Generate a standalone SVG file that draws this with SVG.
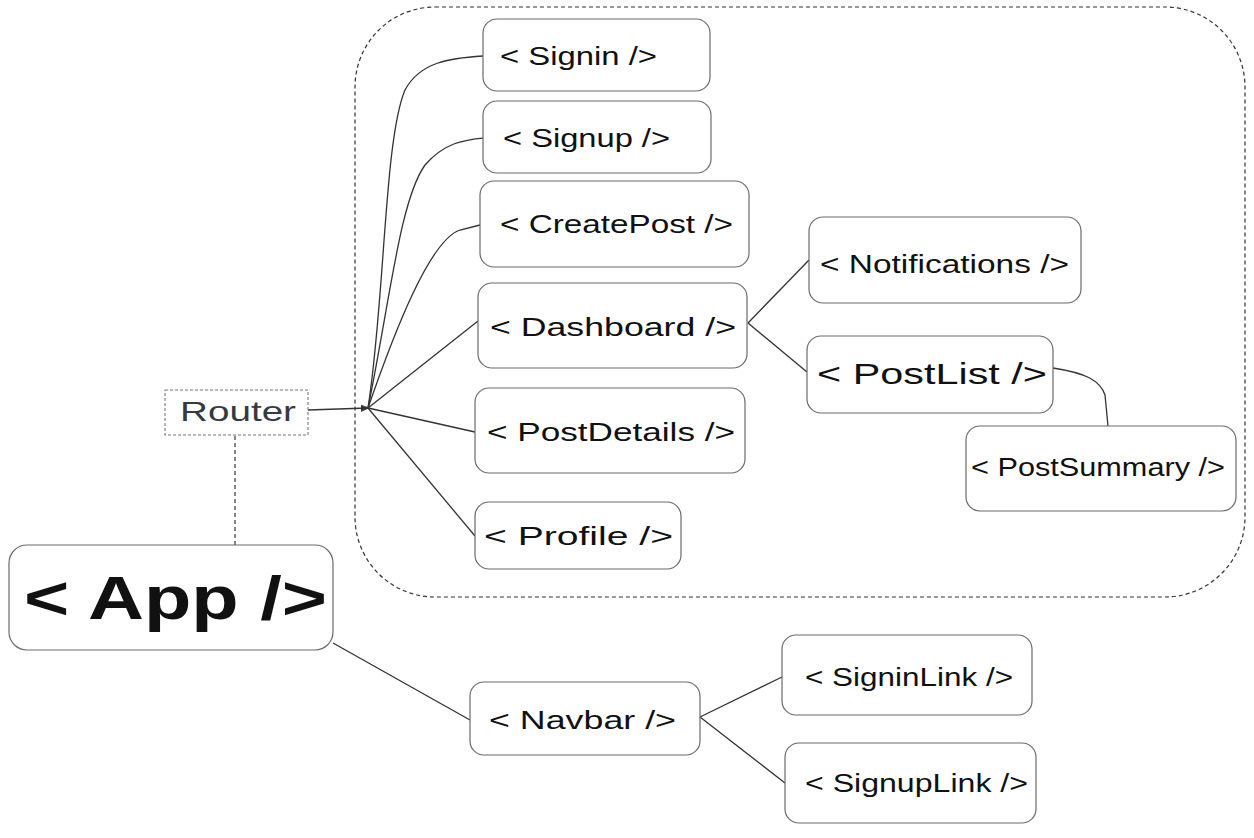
<svg xmlns="http://www.w3.org/2000/svg" width="1254" height="838" viewBox="0 0 1254 838">
  <style>
    .box { fill: #ffffff; stroke: #6b6b6b; stroke-width: 1.2; }
    .lbl { font-family: "Liberation Sans", Arial, sans-serif; font-size: 26px; fill: #111111; }
    .big { font-size: 30px; }
    .app { font-size: 62px; font-weight: bold; }
    .router { fill: #343a40; font-size: 28px; }
    .wire { fill: none; stroke: #333333; stroke-width: 1.3; }
    .dash { fill: none; stroke: #333333; stroke-width: 1.2; stroke-dasharray: 4 3; }
  </style>
  <defs>
    <marker id="arrow" viewBox="0 0 10 10" refX="9" refY="5" markerWidth="8" markerHeight="8" orient="auto" markerUnits="userSpaceOnUse">
      <path d="M0,1 L10,5 L0,9" fill="#333333" stroke="#333333" stroke-width="1"/>
    </marker>
  </defs>

  <rect width="1254" height="838" fill="#ffffff"/>

  <!-- routed pages container -->
  <rect id="routes" x="355" y="7" width="890" height="590" rx="80" ry="80" class="dash"/>

  <g id="connectors">
    <path class="wire" d="M308,410 L368,408" marker-end="url(#arrow)"/>
    <path class="dash" d="M235,436 L235,545"/>
    <path class="wire" d="M368,408 C385,300 384,140 405,90 C420,62 450,58 483,56"/>
    <path class="wire" d="M368,408 C390,300 400,200 425,165 C445,142 465,140 483,138"/>
    <path class="wire" d="M368,408 C395,330 430,240 460,230 L480,225"/>
    <path class="wire" d="M368,408 L478,321"/>
    <path class="wire" d="M368,408 L475,432"/>
    <path class="wire" d="M368,408 L475,536"/>
    <path class="wire" d="M748,323 L809,260"/>
    <path class="wire" d="M748,323 L807,372"/>
    <path class="wire" d="M1053,368 C1085,373 1100,380 1105,395 L1108,426"/>
    <path class="wire" d="M333,643 L470,720"/>
    <path class="wire" d="M700,717 L782,677"/>
    <path class="wire" d="M700,717 L785,783"/>
  </g>

  <g id="router">
    <rect x="165" y="390" width="143" height="45" fill="#ffffff" stroke="#777777" stroke-width="1.1" stroke-dasharray="3 2"/>
    <text class="lbl router" x="180" y="421" textLength="116" lengthAdjust="spacingAndGlyphs">Router</text>
  </g>

  <g id="signin">
    <rect class="box" x="483" y="19" width="227" height="72" rx="14"/>
    <text class="lbl" x="500" y="65" textLength="157" lengthAdjust="spacingAndGlyphs">&lt; Signin /&gt;</text>
  </g>
  <g id="signup">
    <rect class="box" x="483" y="101" width="228" height="72" rx="14"/>
    <text class="lbl" x="503" y="147" textLength="167" lengthAdjust="spacingAndGlyphs">&lt; Signup /&gt;</text>
  </g>
  <g id="createpost">
    <rect class="box" x="480" y="181" width="269" height="86" rx="14"/>
    <text class="lbl" x="500" y="233" textLength="233" lengthAdjust="spacingAndGlyphs">&lt; CreatePost /&gt;</text>
  </g>
  <g id="dashboard">
    <rect class="box" x="478" y="283" width="269" height="85" rx="14"/>
    <text class="lbl" x="490" y="336" textLength="246" lengthAdjust="spacingAndGlyphs">&lt; Dashboard /&gt;</text>
  </g>
  <g id="postdetails">
    <rect class="box" x="475" y="388" width="270" height="85" rx="14"/>
    <text class="lbl" x="487" y="441" textLength="248" lengthAdjust="spacingAndGlyphs">&lt; PostDetails /&gt;</text>
  </g>
  <g id="profile">
    <rect class="box" x="475" y="502" width="206" height="67" rx="14"/>
    <text class="lbl" x="484" y="545" textLength="189" lengthAdjust="spacingAndGlyphs">&lt; Profile /&gt;</text>
  </g>
  <g id="notifications">
    <rect class="box" x="809" y="217" width="272" height="86" rx="14"/>
    <text class="lbl" x="820" y="273" textLength="249" lengthAdjust="spacingAndGlyphs">&lt; Notifications /&gt;</text>
  </g>
  <g id="postlist">
    <rect class="box" x="807" y="336" width="246" height="77" rx="14"/>
    <text class="lbl big" x="817" y="384" textLength="230" lengthAdjust="spacingAndGlyphs">&lt; PostList /&gt;</text>
  </g>
  <g id="postsummary">
    <rect class="box" x="966" y="426" width="270" height="85" rx="14"/>
    <text class="lbl" x="971" y="476" textLength="254" lengthAdjust="spacingAndGlyphs">&lt; PostSummary /&gt;</text>
  </g>
  <g id="app">
    <rect class="box" x="9" y="545" width="324" height="105" rx="18"/>
    <text class="lbl app" x="24" y="619" textLength="303" lengthAdjust="spacingAndGlyphs">&lt; App /&gt;</text>
  </g>
  <g id="navbar">
    <rect class="box" x="470" y="682" width="230" height="73" rx="14"/>
    <text class="lbl" x="489" y="729" textLength="187" lengthAdjust="spacingAndGlyphs">&lt; Navbar /&gt;</text>
  </g>
  <g id="signinlink">
    <rect class="box" x="782" y="635" width="250" height="80" rx="14"/>
    <text class="lbl" x="805" y="686" textLength="208" lengthAdjust="spacingAndGlyphs">&lt; SigninLink /&gt;</text>
  </g>
  <g id="signuplink">
    <rect class="box" x="785" y="743" width="251" height="80" rx="14"/>
    <text class="lbl" x="805" y="792" textLength="223" lengthAdjust="spacingAndGlyphs">&lt; SignupLink /&gt;</text>
  </g>
</svg>
